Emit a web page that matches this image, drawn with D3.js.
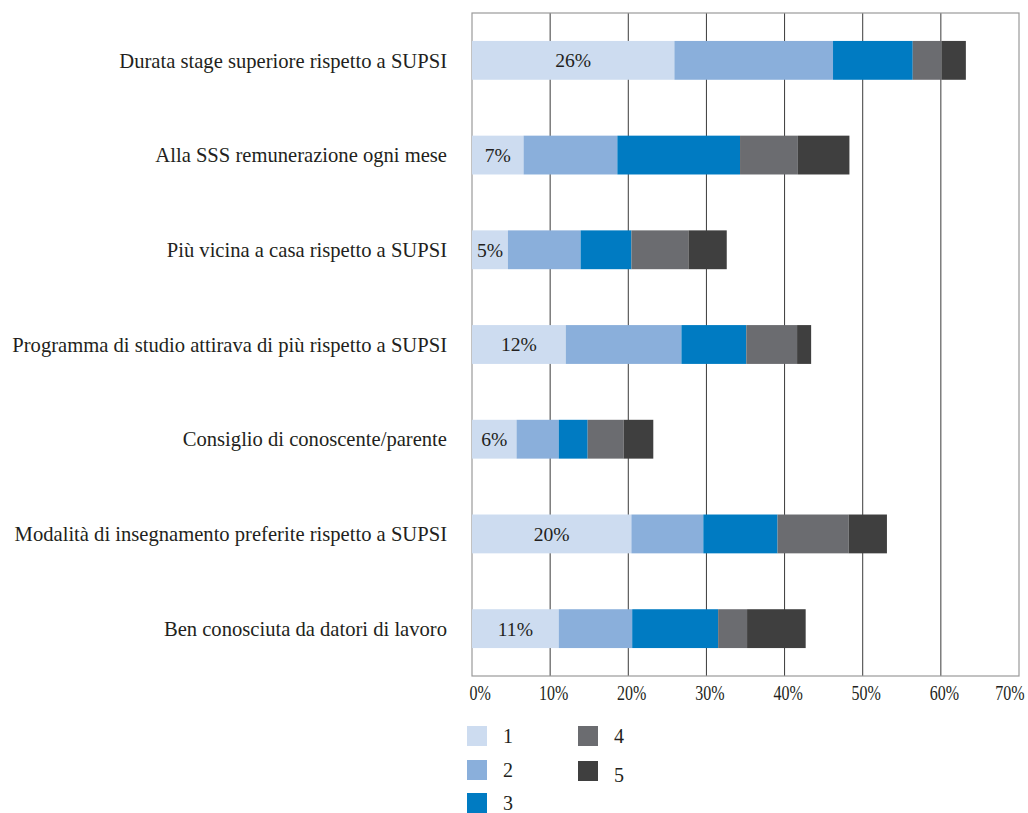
<!DOCTYPE html>
<html>
<head>
<meta charset="utf-8">
<script src="https://cdn.jsdelivr.net/npm/d3@7"></script>
<style>
  html, body { margin: 0; padding: 0; background: #fff; }
  svg { display: block; }
  text { font-family: "Liberation Serif", "Times New Roman", serif; fill: #231f20; }
</style>
</head>
<body>
<svg id="chart" width="1028" height="813"></svg>
<script>
// Reasons for choosing the SSS, rated 1-5 (share of respondents, %)
const categories = [
  "Durata stage superiore rispetto a SUPSI",
  "Alla SSS remunerazione ogni mese",
  "Più vicina a casa rispetto a SUPSI",
  "Programma di studio attirava di più rispetto a SUPSI",
  "Consiglio di conoscente/parente",
  "Modalità di insegnamento preferite rispetto a SUPSI",
  "Ben conosciuta da datori di lavoro"
];
const seriesNames = ["1", "2", "3", "4", "5"];
const rating1 = [25.9, 6.6, 4.6, 12.0, 5.7, 20.4, 11.1];
const rating2 = [20.3, 12.0, 9.3, 14.8, 5.4, 9.2, 9.4];
const rating3 = [10.2, 15.7, 6.5, 8.3, 3.7, 9.5, 11.0];
const rating4 = [3.7, 7.4, 7.3, 6.5, 4.6, 9.1, 3.7];
const rating5 = [3.1, 6.6, 4.9, 1.8, 3.8, 4.9, 7.5];
const tickValues = [0, 10, 20, 30, 40, 50, 60, 70];
const colors = ["#cddcf0", "#8aafdb", "#007bc2", "#6b6c70", "#3f3f3f"];

const seriesValues = [rating1, rating2, rating3, rating4, rating5];
const rows = categories.map((c, i) => {
  const r = { category: c };
  seriesNames.forEach((s, k) => { r[s] = seriesValues[k][i]; });
  return r;
});
const stacked = d3.stack().keys(seriesNames)(rows);

const svg = d3.select("#chart");
const plot = { left: 472, right: 1019, top: 13, bottom: 676 };

const x = d3.scaleLinear().domain([0, 70]).range([plot.left, plot.right]);
const y = d3.scaleBand().domain(categories).range([plot.top, plot.bottom])
  .paddingInner(0.59).paddingOuter(0.295);

// vertical gridlines
svg.append("g").selectAll("line")
  .data(tickValues.slice(1, -1))
  .join("line")
  .attr("x1", d => x(d)).attr("x2", d => x(d))
  .attr("y1", plot.top).attr("y2", plot.bottom)
  .attr("stroke", "#3a3a3a").attr("stroke-width", 1);

// plot frame
svg.append("rect")
  .attr("x", plot.left).attr("y", plot.top)
  .attr("width", plot.right - plot.left).attr("height", plot.bottom - plot.top)
  .attr("fill", "none").attr("stroke", "#9a9a9a").attr("stroke-width", 1.2);

// stacked bars
const layer = svg.append("g").selectAll("g")
  .data(stacked)
  .join("g")
  .attr("fill", (d, i) => colors[i]);

layer.selectAll("rect")
  .data(d => d)
  .join("rect")
  .attr("x", d => x(d[0]))
  .attr("width", d => x(d[1]) - x(d[0]))
  .attr("y", d => y(d.data.category))
  .attr("height", y.bandwidth());

// value labels on the first segment
svg.append("g").selectAll("text")
  .data(stacked[0])
  .join("text")
  .attr("x", d => (x(d[0]) + x(d[1])) / 2)
  .attr("y", d => y(d.data.category) + y.bandwidth() / 2)
  .attr("dy", "0.35em")
  .attr("text-anchor", "middle")
  .attr("font-size", 19.6)
  .attr("fill", "#333")
  .text(d => Math.round(d[1] - d[0]) + "%");

// category labels
svg.append("g").selectAll("text")
  .data(categories)
  .join("text")
  .attr("x", plot.left - 25)
  .attr("y", d => y(d) + y.bandwidth() / 2)
  .attr("dy", "0.35em")
  .attr("text-anchor", "end")
  .attr("font-size", 20.6)
  .text(d => d);

// x axis with narrow tick labels; end labels kept inside the frame
const sx = 0.8;
const xAxis = svg.append("g")
  .attr("transform", `translate(0,${plot.bottom})`)
  .call(d3.axisBottom(x).tickValues(tickValues).tickSize(0).tickPadding(10)
    .tickFormat(d => d + "%"));
xAxis.select(".domain").remove();
xAxis.selectAll("text")
  .attr("font-family", "'Liberation Serif', serif")
  .attr("font-size", 20)
  .attr("fill", "#231f20")
  .attr("transform", `scale(${sx},1)`)
  .attr("text-anchor", (d, i) => i === 0 ? "start" : (i === tickValues.length - 1 ? "end" : "middle"))
  .attr("x", (d, i) => (i === 0 ? -3 : (i === tickValues.length - 1 ? 5 : 3)) / sx);

// legend
const legendPos = [
  { x: 467, y: 726 }, { x: 467, y: 760 }, { x: 467, y: 793 },
  { x: 578, y: 726 }, { x: 578, y: 761 }
];
const legend = svg.append("g").selectAll("g")
  .data(seriesNames)
  .join("g")
  .attr("transform", (d, i) => `translate(${legendPos[i].x},${legendPos[i].y})`);
legend.append("rect")
  .attr("width", 20).attr("height", 20)
  .attr("fill", (d, i) => colors[i]);
legend.append("text")
  .attr("x", 36)
  .attr("y", (d, i) => i === 4 ? 14 : 10)
  .attr("dy", "0.35em")
  .attr("font-size", 20)
  .text(d => d);
</script>
</body>
</html>
